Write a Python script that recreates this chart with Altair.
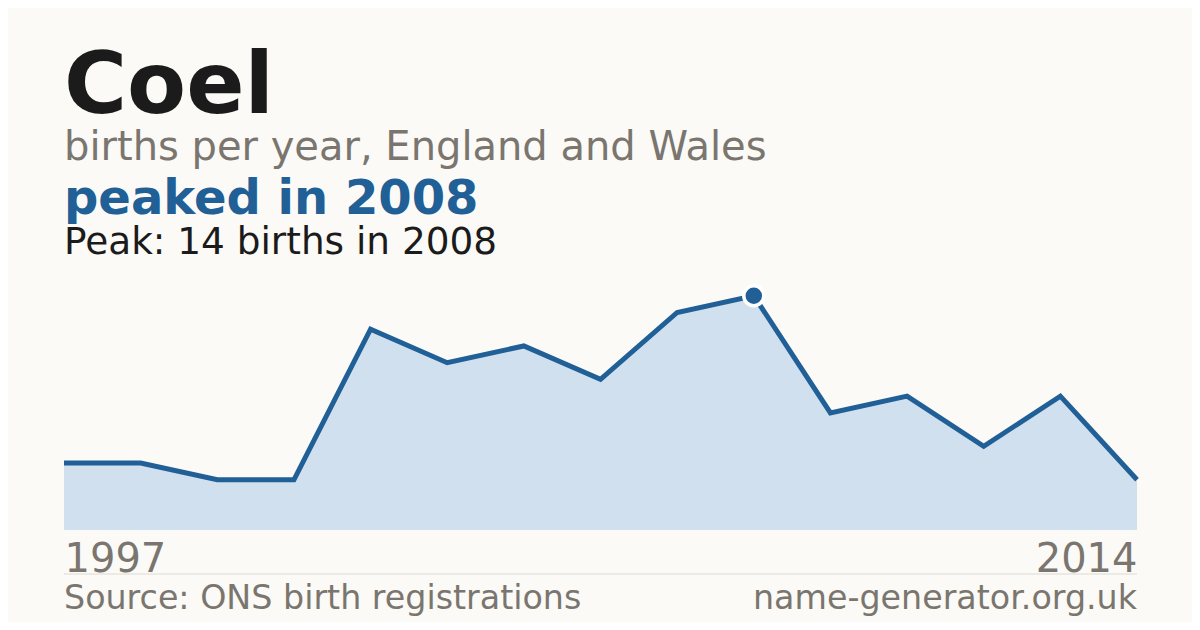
import altair as alt
import pandas as pd

# ---- data ----
years = ["1997", "1998", "1999", "2000", "2001", "2002", "2003", "2005",
         "2007", "2008", "2009", "2010", "2011", "2012", "2014"]
births = [4, 4, 3, 3, 12, 10, 11, 9, 13, 14, 7, 8, 5, 8, 3]
axis_labels = ["1997", "2014"]

name_title = "Coel"
subtitle = "births per year, England and Wales"
headline = "peaked in 2008"
peak_note = "Peak: 14 births in 2008"
source_note = "Source: ONS birth registrations"
site_note = "name-generator.org.uk"

df = pd.DataFrame({"year": years, "births": births})
peak = df[df["births"] == df["births"].max()]

# ---- style ----
FONT = "DejaVu Sans"
BG = "#fbfaf6"
BLUE = "#215f97"
FILL = "#d0e0ef"
GREY = "#7a766f"
DARK = "#1b1b1b"
W, H = 1073, 251
TOP = 279  # page y of the plot top

xaxis = alt.Axis(values=axis_labels, labelFlush=True, labelAngle=0,
                 ticks=False, domain=False, grid=False, title=None,
                 labelFontSize=40, labelColor=GREY, labelFont=FONT,
                 labelPadding=9)
xenc = alt.X("year:O", scale=alt.Scale(type="point", padding=0), axis=xaxis)
yenc = alt.Y("births:Q", scale=alt.Scale(domain=[0, 15]), axis=None)

base = alt.Chart(df)
area = base.mark_area(color=FILL).encode(x=xenc, y=yenc)
line = base.mark_line(color=BLUE, strokeWidth=5).encode(x=xenc, y=yenc)
dot = alt.Chart(peak).mark_point(filled=True, color=BLUE, size=400, stroke="white",
                                 strokeWidth=3.5, opacity=1).encode(x=xenc, y=yenc)


def text_layer(txt, x, y_page, size, color, weight="normal", align="left"):
    return alt.Chart(pd.DataFrame({"t": [txt]})).mark_text(
        font=FONT, fontSize=size, color=color, fontWeight=weight,
        align=align, baseline="alphabetic").encode(
        text="t:N", x=alt.value(x), y=alt.value(y_page - TOP))


t1 = text_layer(name_title, 0, 113, 86, DARK, "bold")
t2 = text_layer(subtitle, 0, 160, 40, GREY)
t3 = text_layer(headline, 0, 214, 48, BLUE, "bold")
t4 = text_layer(peak_note, 0, 254, 37.4, DARK)
t5 = text_layer(source_note, 0, 609, 33.3, GREY)
t6 = text_layer(site_note, W, 609, 33.3, GREY, align="right")

rule = alt.Chart(pd.DataFrame({"a": [0]})).mark_rule(color="#dcdad3", strokeWidth=1).encode(
    x=alt.value(0), x2=alt.value(W), y=alt.value(574 - TOP))

chart = alt.layer(area, line, dot, rule, t1, t2, t3, t4, t5, t6).properties(
    width=W, height=H,
    autosize=alt.AutoSizeParams(type="none"),
    padding={"left": 56, "top": TOP - 8, "right": 55, "bottom": 92},
    background=BG,
).configure_view(stroke=None)

chart.save("out.html", embed_options={"renderer": "svg", "actions": False})
